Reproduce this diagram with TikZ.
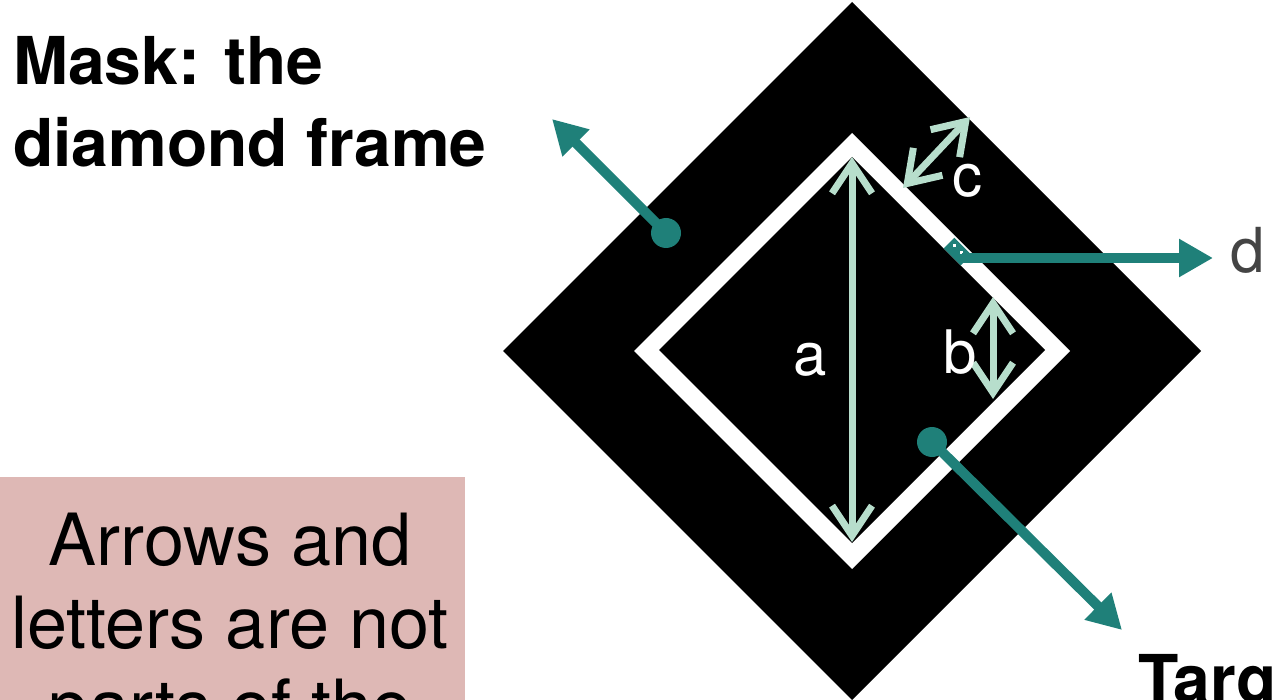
\documentclass[tikz,border=0pt]{standalone}
\usepackage{fontspec}
\setmainfont{TeX Gyre Heros}
\usetikzlibrary{arrows.meta}
\definecolor{tealc}{RGB}{31,128,121}
\definecolor{mintc}{RGB}{183,222,204}
\definecolor{pinkc}{RGB}{222,184,181}
\definecolor{grayc}{RGB}{68,68,68}
\begin{document}
\begin{tikzpicture}[x=1pt,y=-1pt,
  tealarrow/.style={draw=tealc, line width=10pt, -{Triangle[length=34pt,width=36pt]}},
  mintarrow/.style={draw=mintc, line width=7pt, {Straight Barb[length=30pt,width=40pt]}-{Straight Barb[length=30pt,width=40pt]}},
  tealdot/.style={circle, fill=tealc, inner sep=0pt, minimum size=30pt},
  lbl/.style={text=white, font=\fontsize{60}{60}\selectfont, anchor=base, inner sep=0pt},
  title/.style={font=\fontsize{66}{80}\bfseries\selectfont, anchor=base west, inner sep=0pt},
  boxtext/.style={font=\fontsize{72}{80}\selectfont, anchor=base, inner sep=0pt}]
\useasboundingbox (0,0) rectangle (1273,700);
\clip (0,0) rectangle (1273,700);
% pink note box
\fill[pinkc] (0,477) rectangle (465,710);
\node[boxtext] (n1) at (230,565) {Arrows and};
\node[boxtext] (n2) at (230,648) {letters are not};
\node[boxtext] (n3) at (230,731) {parts of the};
% title
\node[title] (t1) at (13,85) {Mask: the};
\node[title] (t2) at (13,167) {diamond frame};
\node[title] (t3) at (1138,702) {Target};
% diamonds
\fill[black] (852,2) -- (1201,351) -- (852,700) -- (503,351) -- cycle;
\fill[white] (852,133) -- (1070,351) -- (852,569) -- (634,351) -- cycle;
\fill[black] (852,157) -- (1045,350) -- (852,543) -- (659,350) -- cycle;
% mint arrows
\coordinate (atop) at (852,157);
\coordinate (abot) at (852,542);
\draw[mintarrow] (atop) -- (abot);
\coordinate (cbl) at (903,188);
\coordinate (ctr) at (970,117);
\draw[mintarrow] (cbl) -- (ctr);
\coordinate (btop) at (993,297);
\coordinate (bbot) at (993,399);
\draw[mintarrow] (btop) -- (bbot);
% labels
\node[lbl] (la) at (810,375) {a};
\node[lbl] (lb) at (960,373) {b};
\node[lbl] (lc) at (967,197) {c};
\node[font=\fontsize{62}{62}\selectfont, text=grayc, anchor=base, inner sep=0pt] (ld) at (1248,273) {d};
% teal pointers
\node[tealdot] (maskdot) at (666,233) {};
\coordinate (masktip) at (552,119);
\draw[tealarrow] (maskdot.center) -- (masktip);
\node[tealdot] (tgtdot) at (932,442) {};
\coordinate (tgttip) at (1122,630);
\draw[tealarrow] (tgtdot.center) -- (tgttip);
% d marker
\coordinate (dm1) at (949,243);
\coordinate (dm2) at (966,260);
\draw[tealc, line width=15pt] (dm1) -- (dm2);
\fill[white] (953,244) rectangle (956,247);
\fill[white] (960,251) rectangle (963,254);
\coordinate (dstart) at (962,258);
\coordinate (dtip) at (1213,258);
\draw[tealarrow] (dstart) -- (dtip);
\end{tikzpicture}
\end{document}
